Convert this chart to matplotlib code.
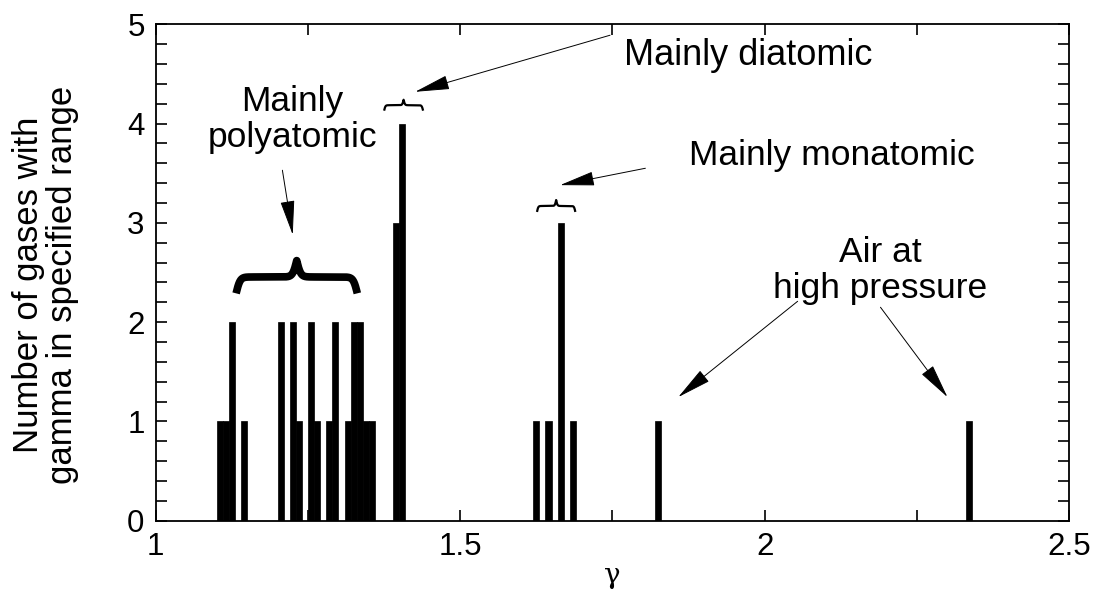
import numpy as np
import matplotlib
matplotlib.use("Agg")
import matplotlib.pyplot as plt
from matplotlib.ticker import MultipleLocator

plt.rcParams['font.family'] = ['Liberation Sans', 'DejaVu Sans']

# histogram bins (left edge of each 0.01-wide gamma bin) and number of gases
bin_left = [1.10, 1.11, 1.12, 1.14, 1.20, 1.22, 1.23, 1.25, 1.26, 1.28, 1.29,
            1.31, 1.32, 1.33, 1.34, 1.35, 1.39, 1.40,
            1.62, 1.64, 1.66, 1.68, 1.82, 2.33]
counts = [1, 1, 2, 1, 2, 2, 1, 2, 1, 1, 2,
          1, 2, 2, 1, 1, 3, 4,
          1, 1, 3, 1, 1, 1]
bin_width = 0.01

x_ticks = [1, 1.5, 2, 2.5]
x_tick_labels = ['1', '1.5', '2', '2.5']
y_ticks = [0, 1, 2, 3, 4, 5]


def brace(ax, x0, x1, y0, y1, lw):
    # horizontal curly brace, tip pointing up, ends at y0, tip at y1
    n = 401
    xs = np.linspace(x0, x1, n)
    half = xs[:n // 2 + 1]
    beta = 60.0 / (x1 - x0)
    yh = (1 / (1 + np.exp(-beta * (half - half[0])))
          + 1 / (1 + np.exp(-beta * (half - half[-1]))))
    ys = np.concatenate((yh, yh[-2::-1]))
    ys = y0 + (ys - 0.5) * (y1 - y0)
    ax.plot(xs, ys, color='black', lw=lw, solid_capstyle='butt', clip_on=False)


def arrow(ax, start, tip):
    ax.annotate('', xy=tip, xytext=start,
                arrowprops=dict(arrowstyle='-|>,head_length=2.2,head_width=0.45',
                                mutation_scale=10, lw=0.7, color='black',
                                shrinkA=0, shrinkB=0))


fig = plt.figure(figsize=(11.02, 5.94), dpi=100)
ax = fig.add_axes([0.1413, 0.1234, 0.829, 0.8357])

ax.bar(bin_left, counts, width=bin_width, align='edge', color='black',
       edgecolor='black', linewidth=0.5)

ax.set_xlim(1, 2.5)
ax.set_ylim(0, 5)
ax.set_xticks(x_ticks)
ax.set_xticklabels(x_tick_labels)
ax.set_yticks(y_ticks)
ax.xaxis.set_minor_locator(MultipleLocator(0.25))
ax.yaxis.set_minor_locator(MultipleLocator(0.2))
ax.tick_params(which='both', direction='in', top=True, right=True,
               labelsize=22.5, width=1.2, pad=8)
ax.tick_params(which='major', length=8)
ax.tick_params(which='minor', length=8)
for s in ax.spines.values():
    s.set_linewidth(1.3)

ax.set_xlabel('γ', family=['DejaVu Serif'], fontsize=20, labelpad=0)
fig.text(0.041, 0.52, 'Number of gases with\ngamma in specified range',
         rotation=90, ha='center', va='center', fontsize=25, linespacing=1.05)

# annotations
brace(ax, 1.132, 1.331, 2.29, 2.62, 5.5)
ax.text(1.225, 4.04, 'Mainly\npolyatomic', ha='center', va='center',
        fontsize=25.5, linespacing=1.1)
arrow(ax, (1.208, 3.53), (1.225, 2.88))

brace(ax, 1.375, 1.439, 4.13, 4.24, 1.6)
ax.text(1.769, 4.69, 'Mainly diatomic', ha='left', va='center', fontsize=26)
arrow(ax, (1.746, 4.89), (1.426, 4.32))

brace(ax, 1.626, 1.689, 3.11, 3.23, 1.6)
ax.text(1.876, 3.68, 'Mainly monatomic', ha='left', va='center', fontsize=25.5)
arrow(ax, (1.804, 3.55), (1.664, 3.38))

ax.text(2.19, 2.52, 'Air at\nhigh pressure', ha='center', va='center',
        fontsize=25.5, linespacing=1.1)
arrow(ax, (2.054, 2.21), (1.858, 1.245))
arrow(ax, (2.19, 2.15), (2.30, 1.245))

fig.savefig('out.png', dpi=100)
